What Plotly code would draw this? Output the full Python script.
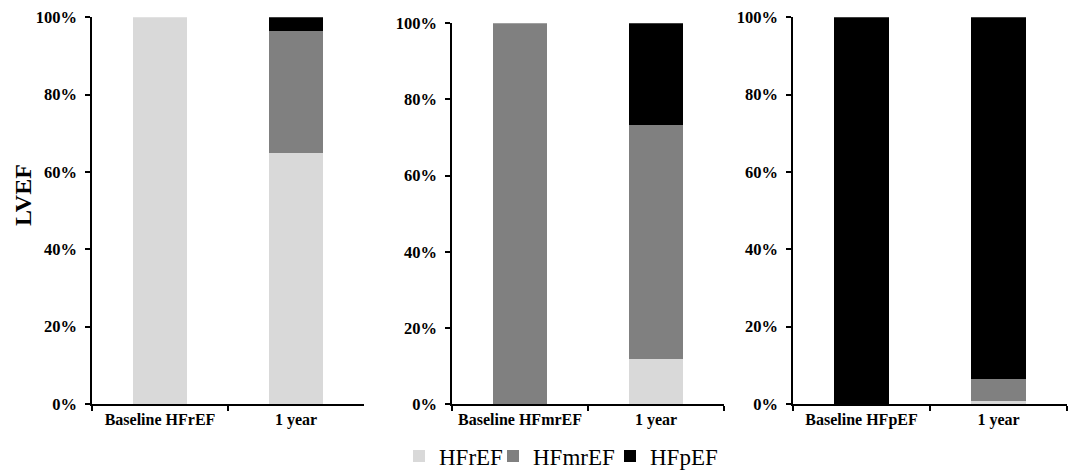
import plotly.graph_objects as go

categories = [
    ["Baseline HFrEF", "1 year"],
    ["Baseline HFmrEF", "1 year"],
    ["Baseline HFpEF", "1 year"],
]
series_names = ["HFrEF", "HFmrEF", "HFpEF"]
colors = ["#d9d9d9", "#808080", "#000000"]

# values per panel, per series (fractions)
hfref_vals = [[1.00, 0.650], [0.00, 0.118], [0.00, 0.008]]
hfmref_vals = [[0.00, 0.315], [1.00, 0.616], [0.00, 0.056]]
hfpef_vals = [[0.00, 0.035], [0.00, 0.266], [1.00, 0.936]]
series_vals = [hfref_vals, hfmref_vals, hfpef_vals]

W, H = 1073, 471
x_domains = [(92, 364), (452, 724), (793, 1067)]
y_domains = [(17.3, 404), (23.3, 404), (17.3, 404)]
legend_left_px = [399, 493, 610]
legend_names = ["legend", "legend2", "legend3"]

fig = go.Figure()
font_family = "Liberation Serif"

for p in range(3):
    xa = "x" if p == 0 else f"x{p+1}"
    ya = "y" if p == 0 else f"y{p+1}"
    for s in range(3):
        fig.add_trace(go.Bar(
            x=categories[p], y=series_vals[s][p], name=series_names[s],
            marker=dict(color=colors[s], line=dict(width=0)),
            width=0.4, xaxis=xa, yaxis=ya,
            legendgroup=series_names[s], showlegend=(p == 0),
            legend=legend_names[s],
        ))

layout = dict(
    width=W, height=H, barmode="stack",
    margin=dict(l=0, r=0, t=0, b=0, autoexpand=False),
    paper_bgcolor="white", plot_bgcolor="white",
    font=dict(family=font_family, color="black"),
)
for s in range(3):
    layout[legend_names[s]] = dict(
        orientation="h", x=legend_left_px[s] / W, y=1 - 456 / H,
        xanchor="left", yanchor="middle", bgcolor="rgba(0,0,0,0)",
        font=dict(size=23, family=font_family, color="black"),
        itemwidth=30,
    )
for p in range(3):
    sx = "" if p == 0 else str(p + 1)
    x0, x1 = x_domains[p]
    yt, yb = y_domains[p]
    layout["xaxis" + sx] = dict(
        domain=[x0 / W, x1 / W], anchor="y" + sx, type="category",
        showline=True, linecolor="black", linewidth=1.5,
        ticks="outside", tickson="boundaries", ticklen=5, tickcolor="black", tickwidth=1.5,
        tickfont=dict(size=16, family=font_family, color="black"), tickangle=0,
        showgrid=False, automargin=False, range=[-0.5, 1.5],
        tickprefix="<b>", ticksuffix="</b>",
    )
    layout["yaxis" + sx] = dict(
        domain=[1 - yb / H, 1 - yt / H], anchor="x" + sx,
        range=[0, 1], dtick=0.2, tick0=0, tickformat=".0%",
        showline=True, linecolor="black", linewidth=1.5,
        ticks="outside", ticklen=5, tickcolor="black", tickwidth=1.5,
        tickfont=dict(size=16.5, family=font_family, color="black"),
        ticklabelstandoff=5,
        showgrid=False, zeroline=False, automargin=False,
        tickprefix="<b>", ticksuffix="</b>",
    )
fig.update_layout(**layout)
fig.add_annotation(
    text="<b>LVEF</b>", textangle=-90, xref="paper", yref="paper",
    x=23 / W, y=1 - 195 / H, xanchor="center", yanchor="middle", showarrow=False,
    font=dict(size=24, family=font_family, color="black"),
)

fig.write_html("out.html")
